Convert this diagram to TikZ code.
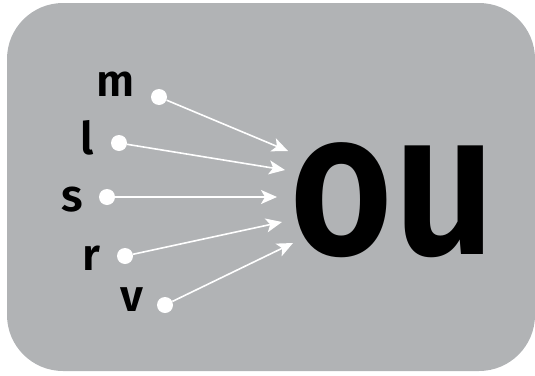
\documentclass[tikz,border=0pt]{standalone}
\usepackage{fontspec}
\setmainfont{Fira Sans}
\newfontfamily\semibfont{Fira Sans SemiBold}
\newfontfamily\oufont[FakeStretch=0.87]{Fira Sans SemiBold}
\usepackage{xcolor}
\usetikzlibrary{arrows.meta,positioning}
\definecolor{panelGray}{RGB}{177,179,181}
\tikzset{
  letter/.style={font=\fontsize{45}{45}\selectfont\semibfont, inner sep=0pt},
  dotnode/.style={circle, fill=white, inner sep=0pt, minimum size=16pt},
  feed/.style={white, line width=1.6pt, -{Stealth[length=16pt, width=14pt, inset=4pt]}}
}
\begin{document}
\begin{tikzpicture}[x=1pt, y=-1pt]
\useasboundingbox (0,0) rectangle (535,375);
\fill[panelGray, rounded corners=56pt] (7,3) rectangle (535,371);
\node[font=\fontsize{205}{205}\selectfont\oufont, inner sep=0pt] (ou) at (393,200) {ou};
\foreach \sym/\lx/\ly/\dx/\dy/\tx/\ty in {m/116/84/159/97/288/151, l/87/138/119/143/285/170, s/72/200/107/197/277/197, r/91/258/125/256/282/222, v/132/300/165/305/293/243}
{
  \node[letter] (\sym) at (\lx,\ly) {\sym};
  \node[dotnode] (\sym dot) at (\dx,\dy) {};
  \coordinate (\sym tip) at (\tx,\ty);
  \draw[feed] (\sym dot) -- (\sym tip);
}
\end{tikzpicture}
\end{document}
